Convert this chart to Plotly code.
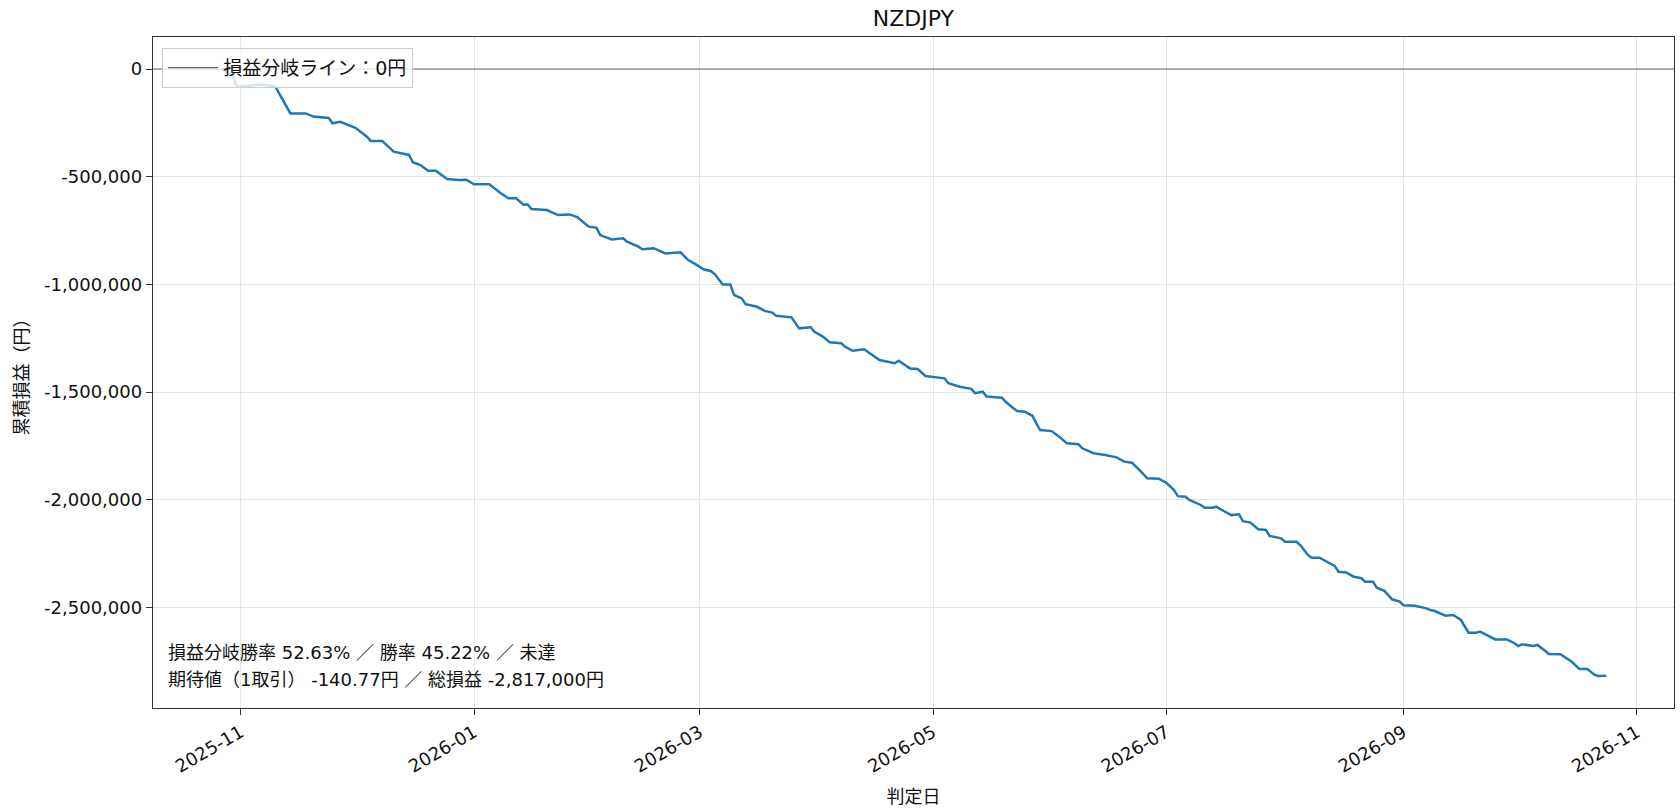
import plotly.graph_objects as go

# ---- data ----
dates = [
    "2025-10-27", "2025-10-29", "2025-10-30", "2025-10-31", "2025-11-03", "2025-11-06",
    "2025-11-10", "2025-11-12", "2025-11-14", "2025-11-18", "2025-11-20", "2025-11-24",
    "2025-11-25", "2025-11-27", "2025-12-01", "2025-12-04", "2025-12-05", "2025-12-08",
    "2025-12-11", "2025-12-15", "2025-12-16", "2025-12-18", "2025-12-20", "2025-12-22",
    "2025-12-25", "2025-12-28", "2025-12-30", "2026-01-01", "2026-01-05", "2026-01-08",
    "2026-01-10", "2026-01-12", "2026-01-14", "2026-01-15", "2026-01-16", "2026-01-20",
    "2026-01-23", "2026-01-26", "2026-01-28", "2026-01-31", "2026-02-02", "2026-02-03",
    "2026-02-06", "2026-02-09", "2026-02-10", "2026-02-13", "2026-02-14", "2026-02-17",
    "2026-02-20", "2026-02-24", "2026-02-26", "2026-02-28", "2026-03-02", "2026-03-04",
    "2026-03-05", "2026-03-07", "2026-03-09", "2026-03-10", "2026-03-12", "2026-03-13",
    "2026-03-16", "2026-03-18", "2026-03-20", "2026-03-21", "2026-03-25", "2026-03-27",
    "2026-03-30", "2026-03-31", "2026-04-02", "2026-04-04", "2026-04-07", "2026-04-08",
    "2026-04-10", "2026-04-13", "2026-04-15", "2026-04-17", "2026-04-21", "2026-04-22",
    "2026-04-25", "2026-04-27", "2026-04-29", "2026-05-02", "2026-05-04", "2026-05-05",
    "2026-05-08", "2026-05-11", "2026-05-12", "2026-05-14", "2026-05-15", "2026-05-19",
    "2026-05-20", "2026-05-22", "2026-05-23", "2026-05-25", "2026-05-27", "2026-05-28",
    "2026-05-29", "2026-06-01", "2026-06-03", "2026-06-05", "2026-06-08", "2026-06-09",
    "2026-06-12", "2026-06-15", "2026-06-18", "2026-06-20", "2026-06-22", "2026-06-24",
    "2026-06-26", "2026-06-29", "2026-07-01", "2026-07-03", "2026-07-04", "2026-07-06",
    "2026-07-07", "2026-07-10", "2026-07-11", "2026-07-13", "2026-07-14", "2026-07-16",
    "2026-07-18", "2026-07-20", "2026-07-21", "2026-07-23", "2026-07-25", "2026-07-27",
    "2026-07-28", "2026-07-31", "2026-08-01", "2026-08-04", "2026-08-05", "2026-08-07",
    "2026-08-08", "2026-08-10", "2026-08-12", "2026-08-14", "2026-08-15", "2026-08-17",
    "2026-08-19", "2026-08-21", "2026-08-22", "2026-08-24", "2026-08-25", "2026-08-27",
    "2026-08-29", "2026-08-31", "2026-09-01", "2026-09-04", "2026-09-07", "2026-09-08",
    "2026-09-09", "2026-09-11", "2026-09-12", "2026-09-14", "2026-09-16", "2026-09-18",
    "2026-09-20", "2026-09-21", "2026-09-23", "2026-09-25", "2026-09-28", "2026-09-30",
    "2026-10-01", "2026-10-02", "2026-10-05", "2026-10-06", "2026-10-08", "2026-10-09",
    "2026-10-12", "2026-10-14", "2026-10-15", "2026-10-17", "2026-10-19", "2026-10-21",
    "2026-10-22", "2026-10-24",
]

cum_pnl = [
    0, -20000, -36000, -82000, -78000, -72000,
    -80000, -145000, -206000, -206000, -221000, -227000,
    -252000, -245000, -273000, -314000, -334000, -334000,
    -384000, -399000, -433000, -446000, -472000, -472000,
    -511000, -515000, -514000, -535000, -535000, -577000,
    -600000, -600000, -631000, -628000, -650000, -655000,
    -678000, -675000, -688000, -732000, -737000, -771000,
    -791000, -786000, -802000, -825000, -837000, -832000,
    -856000, -851000, -887000, -907000, -930000, -939000,
    -953000, -1000000, -1000000, -1049000, -1065000, -1092000,
    -1104000, -1123000, -1131000, -1146000, -1153000, -1204000,
    -1199000, -1220000, -1240000, -1269000, -1273000, -1289000,
    -1308000, -1301000, -1328000, -1351000, -1366000, -1354000,
    -1390000, -1393000, -1425000, -1431000, -1436000, -1459000,
    -1475000, -1485000, -1505000, -1498000, -1521000, -1526000,
    -1545000, -1575000, -1588000, -1591000, -1610000, -1645000,
    -1676000, -1681000, -1707000, -1738000, -1742000, -1761000,
    -1784000, -1792000, -1803000, -1823000, -1828000, -1862000,
    -1900000, -1902000, -1921000, -1955000, -1983000, -1986000,
    -2001000, -2024000, -2037000, -2037000, -2032000, -2052000,
    -2071000, -2067000, -2099000, -2106000, -2137000, -2140000,
    -2168000, -2179000, -2195000, -2195000, -2210000, -2256000,
    -2269000, -2269000, -2287000, -2307000, -2334000, -2337000,
    -2357000, -2364000, -2380000, -2380000, -2408000, -2423000,
    -2462000, -2473000, -2490000, -2492000, -2504000, -2512000,
    -2515000, -2530000, -2538000, -2535000, -2558000, -2617000,
    -2617000, -2612000, -2632000, -2648000, -2648000, -2666000,
    -2679000, -2671000, -2679000, -2674000, -2701000, -2716000,
    -2717000, -2739000, -2752000, -2786000, -2786000, -2813000,
    -2818000, -2817000,
]

y_ticks = [0, -500000, -1000000, -1500000, -2000000, -2500000]
x_ticks = ["2025-11-01", "2026-01-01", "2026-03-01", "2026-05-01",
           "2026-07-01", "2026-09-01", "2026-11-01"]
x_tick_labels = ["2025-11", "2026-01", "2026-03", "2026-05", "2026-07", "2026-09", "2026-11"]

title = "NZDJPY"
legend_name = "損益分岐ライン：0円"
stats_line1 = "損益分岐勝率 52.63% ／ 勝率 45.22% ／ 未達"
stats_line2 = "期待値（1取引） -140.77円 ／ 総損益 -2,817,000円"

FONT = "DejaVu Sans, Noto Sans CJK JP, sans-serif"
AX = "#333333"
GRID = "#e3e3e3"

fig = go.Figure()
fig.add_trace(go.Scatter(
    x=dates, y=cum_pnl, mode="lines",
    line=dict(color="#1f77b4", width=2.5),
    showlegend=False,
))

fig.add_shape(
    type="line", xref="x domain", x0=0, x1=1, yref="y", y0=0, y1=0,
    line=dict(color="#5b6b7b", width=1.2),
    showlegend=True, name=legend_name, layer="above",
)

for txt, ypos in [(stats_line1, 0.0827), (stats_line2, 0.0425)]:
    fig.add_annotation(
        xref="x domain", yref="y domain", x=0.0087, y=ypos,
        xanchor="left", yanchor="middle", align="left", showarrow=False,
        text=txt,
        font=dict(family=FONT, size=18, color="#111111"),
    )

fig.update_layout(
    width=1680, height=812,
    margin=dict(l=153, r=6, t=37, b=104),
    paper_bgcolor="white", plot_bgcolor="white",
    font=dict(family=FONT, size=18, color="#111111"),
    title=dict(text=title, x=0.5437, xanchor="center", y=0.977, yanchor="middle",
               font=dict(family=FONT, size=22, color="#111111")),
    legend=dict(x=0.006, y=0.984, xanchor="left", yanchor="top",
                bgcolor="rgba(255,255,255,0.8)", bordercolor="#cccccc", borderwidth=1,
                itemwidth=50,
                font=dict(family=FONT, size=19, color="#111111")),
    xaxis=dict(
        range=["2025-10-09 02:00", "2026-11-10 17:00"],
        tickvals=x_ticks, ticktext=x_tick_labels, tickangle=-30,
        showgrid=True, gridcolor=GRID, gridwidth=1.3,
        showline=True, linecolor=AX, linewidth=1.4, mirror=True,
        ticks="outside", ticklen=6, tickcolor=AX, tickwidth=1.3,
        tickfont=dict(size=18),
        title=dict(text="判定日", font=dict(size=18), standoff=14),
        zeroline=False,
    ),
    yaxis=dict(
        range=[-2966600, 148600],
        tickvals=y_ticks, ticktext=[f"{v:,}" for v in y_ticks],
        showgrid=True, gridcolor=GRID, gridwidth=1.3,
        showline=True, linecolor=AX, linewidth=1.4, mirror=True,
        ticks="outside", ticklen=6, tickcolor=AX, tickwidth=1.3,
        tickfont=dict(size=18),
        title=dict(text="累積損益（円）", font=dict(size=18), standoff=10),
        zeroline=False,
    ),
)

fig.write_html("out.html")
